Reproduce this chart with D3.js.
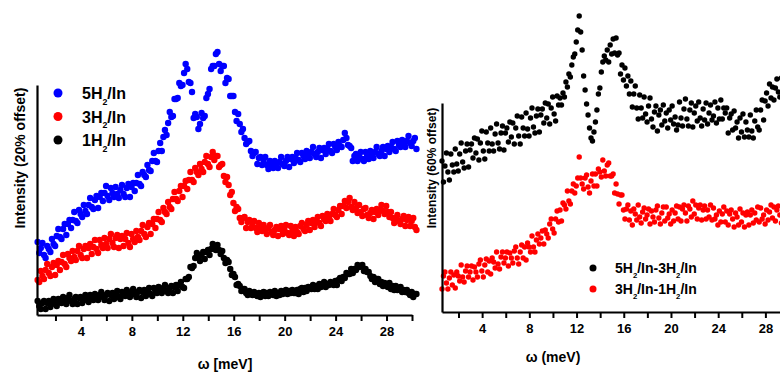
<!DOCTYPE html>
<html>
<head>
<meta charset="utf-8">
<script src="https://cdn.jsdelivr.net/npm/d3@7"></script>
<style>
  body { margin: 0; background: #fff; }
  text { font-family: "Liberation Sans", Arial, sans-serif; font-weight: bold; fill: #000; }
</style>
</head>
<body>
<svg id="chart" width="780" height="372"></svg>
<script>
// energy transfer (meV), shared by all scans
const energy = [
  0.6,0.725,0.85,0.975,1.1,1.225,1.35,1.475,
  1.6,1.725,1.85,1.975,2.1,2.225,2.35,2.475,
  2.6,2.725,2.85,2.975,3.1,3.225,3.35,3.475,
  3.6,3.725,3.85,3.975,4.1,4.225,4.35,4.475,
  4.6,4.725,4.85,4.975,5.1,5.225,5.35,5.475,
  5.6,5.725,5.85,5.975,6.1,6.225,6.35,6.475,
  6.6,6.725,6.85,6.975,7.1,7.225,7.35,7.475,
  7.6,7.725,7.85,7.975,8.1,8.225,8.35,8.475,
  8.6,8.725,8.85,8.975,9.1,9.225,9.35,9.475,
  9.6,9.725,9.85,9.975,10.1,10.225,10.35,10.475,
  10.6,10.725,10.85,10.975,11.1,11.225,11.35,11.475,
  11.6,11.725,11.85,11.975,12.1,12.225,12.35,12.475,
  12.6,12.725,12.85,12.975,13.1,13.225,13.35,13.475,
  13.6,13.725,13.85,13.975,14.1,14.225,14.35,14.475,
  14.6,14.725,14.85,14.975,15.1,15.225,15.35,15.475,
  15.6,15.725,15.85,15.975,16.1,16.225,16.35,16.475,
  16.6,16.725,16.85,16.975,17.1,17.225,17.35,17.475,
  17.6,17.725,17.85,17.975,18.1,18.225,18.35,18.475,
  18.6,18.725,18.85,18.975,19.1,19.225,19.35,19.475,
  19.6,19.725,19.85,19.975,20.1,20.225,20.35,20.475,
  20.6,20.725,20.85,20.975,21.1,21.225,21.35,21.475,
  21.6,21.725,21.85,21.975,22.1,22.225,22.35,22.475,
  22.6,22.725,22.85,22.975,23.1,23.225,23.35,23.475,
  23.6,23.725,23.85,23.975,24.1,24.225,24.35,24.475,
  24.6,24.725,24.85,24.975,25.1,25.225,25.35,25.475,
  25.6,25.725,25.85,25.975,26.1,26.225,26.35,26.475,
  26.6,26.725,26.85,26.975,27.1,27.225,27.35,27.475,
  27.6,27.725,27.85,27.975,28.1,28.225,28.35,28.475,
  28.6,28.725,28.85,28.975,29.1,29.225,29.35,29.475,
  29.6,29.725,29.85,29.975,30.1,30.225,30.35
];

// left panel, intensity with 20% offset (arb. units)
const h5 = [
  0.73,0.62,0.67,0.72,0.60,0.57,0.69,0.66,
  0.63,0.76,0.71,0.69,0.79,0.86,0.78,0.76,
  0.86,0.91,0.80,0.91,0.95,0.87,0.95,1.03,
  0.94,0.92,1.05,1.01,0.98,1.10,1.04,1.01,
  1.10,1.17,1.08,1.06,1.15,1.19,1.07,1.18,
  1.22,1.14,1.22,1.29,1.19,1.15,1.27,1.22,
  1.18,1.28,1.21,1.17,1.25,1.30,1.21,1.18,
  1.27,1.31,1.18,1.28,1.32,1.24,1.32,1.40,
  1.31,1.29,1.43,1.40,1.38,1.50,1.45,1.44,
  1.54,1.62,1.54,1.53,1.64,1.72,1.64,1.78,
  1.85,1.80,1.92,2.03,1.98,1.99,2.16,2.16,
  2.17,2.32,2.29,2.30,2.42,2.51,2.46,2.33,
  2.32,2.23,1.97,2.01,1.98,1.86,1.91,2.02,
  1.97,1.99,2.17,2.21,2.26,2.46,2.49,2.49,
  2.61,2.63,2.51,2.44,2.49,2.49,2.32,2.37,
  2.36,2.19,2.19,2.19,2.03,1.94,2.01,1.91,
  1.83,1.86,1.77,1.71,1.73,1.74,1.64,1.59,
  1.62,1.63,1.51,1.57,1.58,1.50,1.54,1.58,
  1.50,1.46,1.54,1.50,1.47,1.54,1.49,1.47,
  1.53,1.58,1.51,1.49,1.54,1.58,1.48,1.56,
  1.58,1.52,1.57,1.62,1.55,1.53,1.62,1.59,
  1.56,1.64,1.59,1.57,1.63,1.68,1.61,1.58,
  1.63,1.67,1.57,1.65,1.67,1.61,1.66,1.71,
  1.64,1.62,1.71,1.68,1.65,1.73,1.69,1.68,
  1.75,1.82,1.77,1.70,1.69,1.67,1.54,1.59,
  1.61,1.54,1.59,1.63,1.56,1.54,1.63,1.59,
  1.56,1.64,1.59,1.57,1.63,1.68,1.61,1.59,
  1.64,1.68,1.59,1.66,1.69,1.63,1.68,1.73,
  1.66,1.64,1.74,1.70,1.68,1.75,1.71,1.68,
  1.74,1.79,1.72,1.69,1.74,1.77,1.66
];
const h3 = [
  0.35,0.33,0.44,0.39,0.36,0.45,0.51,0.42,
  0.39,0.48,0.52,0.40,0.50,0.54,0.45,0.53,
  0.60,0.51,0.48,0.61,0.57,0.54,0.64,0.58,
  0.55,0.64,0.69,0.60,0.57,0.66,0.69,0.57,
  0.67,0.71,0.61,0.68,0.75,0.66,0.62,0.75,
  0.70,0.67,0.77,0.71,0.67,0.76,0.81,0.72,
  0.68,0.77,0.80,0.67,0.76,0.79,0.69,0.76,
  0.82,0.72,0.68,0.81,0.76,0.73,0.84,0.78,
  0.75,0.84,0.90,0.81,0.78,0.88,0.92,0.81,
  0.91,0.96,0.87,0.96,1.03,0.95,0.93,1.07,
  1.03,1.01,1.13,1.08,1.06,1.16,1.23,1.16,
  1.14,1.24,1.29,1.18,1.29,1.34,1.26,1.35,
  1.43,1.35,1.33,1.47,1.43,1.40,1.51,1.46,
  1.43,1.53,1.59,1.51,1.48,1.58,1.63,1.55,
  1.59,1.59,1.48,1.50,1.51,1.39,1.33,1.38,
  1.30,1.20,1.23,1.12,1.04,1.08,1.06,0.97,
  0.93,0.97,0.98,0.87,0.93,0.95,0.87,0.91,
  0.94,0.87,0.83,0.92,0.87,0.84,0.90,0.85,
  0.81,0.87,0.90,0.83,0.80,0.85,0.88,0.79,
  0.86,0.89,0.81,0.86,0.90,0.82,0.80,0.89,
  0.84,0.79,0.88,0.83,0.81,0.89,0.92,0.86,
  0.84,0.90,0.94,0.85,0.92,0.95,0.88,0.93,
  0.98,0.92,0.89,0.99,0.96,0.94,1.01,0.97,
  0.94,1.01,1.06,1.00,0.98,1.05,1.09,1.01,
  1.09,1.14,1.07,1.13,1.17,1.08,1.05,1.13,
  1.07,1.02,1.10,1.03,0.99,1.06,1.07,1.00,
  0.97,1.02,1.05,0.96,1.03,1.06,1.00,1.05,
  1.10,1.04,1.01,1.09,1.03,0.98,1.03,0.97,
  0.92,0.97,1.00,0.94,0.91,0.96,0.99,0.89,
  0.95,0.98,0.89,0.94,0.97,0.88,0.85
];
const h1 = [
  0.14,0.09,0.06,0.12,0.14,0.06,0.12,0.14,
  0.08,0.13,0.16,0.11,0.09,0.16,0.13,0.12,
  0.18,0.13,0.11,0.17,0.20,0.14,0.11,0.16,
  0.18,0.11,0.17,0.18,0.12,0.17,0.20,0.15,
  0.13,0.20,0.17,0.15,0.21,0.17,0.15,0.20,
  0.23,0.18,0.15,0.20,0.22,0.14,0.20,0.22,
  0.16,0.21,0.24,0.18,0.16,0.23,0.20,0.19,
  0.25,0.20,0.18,0.23,0.26,0.21,0.18,0.23,
  0.25,0.17,0.23,0.25,0.19,0.24,0.27,0.21,
  0.19,0.27,0.24,0.22,0.28,0.24,0.22,0.27,
  0.30,0.24,0.22,0.27,0.29,0.22,0.28,0.30,
  0.24,0.30,0.33,0.28,0.27,0.36,0.36,0.38,
  0.48,0.47,0.49,0.57,0.62,0.57,0.54,0.60,
  0.63,0.56,0.63,0.65,0.60,0.66,0.71,0.66,
  0.65,0.70,0.65,0.61,0.64,0.57,0.52,0.55,
  0.53,0.46,0.40,0.41,0.38,0.30,0.31,0.29,
  0.24,0.26,0.26,0.22,0.20,0.24,0.21,0.20,
  0.23,0.20,0.19,0.22,0.18,0.22,0.23,0.19,
  0.22,0.19,0.23,0.21,0.20,0.24,0.19,0.22,
  0.20,0.24,0.21,0.23,0.25,0.21,0.24,0.22,
  0.25,0.22,0.22,0.25,0.21,0.26,0.27,0.23,
  0.27,0.24,0.28,0.27,0.26,0.30,0.26,0.29,
  0.26,0.31,0.28,0.30,0.33,0.28,0.31,0.30,
  0.33,0.31,0.30,0.34,0.30,0.35,0.37,0.34,
  0.38,0.37,0.42,0.41,0.41,0.46,0.42,0.46,
  0.45,0.50,0.48,0.49,0.50,0.44,0.46,0.43,
  0.43,0.39,0.36,0.38,0.33,0.36,0.36,0.31,
  0.33,0.29,0.32,0.30,0.28,0.32,0.26,0.29,
  0.25,0.29,0.25,0.27,0.28,0.23,0.25,0.23,
  0.25,0.22,0.20,0.23,0.18,0.21,0.21
];

// right panel, differences with 60% offset (arb. units)
const d53 = [
  1.51,1.30,1.46,1.59,1.40,1.32,1.58,1.47,
  1.40,1.63,1.48,1.41,1.58,1.69,1.50,1.44,
  1.61,1.68,1.45,1.62,1.68,1.54,1.74,1.59,
  1.73,1.52,1.69,1.81,1.61,1.53,1.80,1.69,
  1.61,1.84,1.68,1.61,1.78,1.88,1.69,1.63,
  1.79,1.86,1.62,1.79,1.84,1.70,1.90,1.75,
  1.89,1.68,1.84,1.96,1.76,1.68,1.95,1.84,
  1.76,1.99,1.83,1.76,1.94,2.04,1.85,1.79,
  1.96,2.03,1.80,1.97,2.03,1.89,2.09,1.94,
  2.08,1.88,2.04,2.15,1.98,1.91,2.16,2.07,
  2.14,2.07,2.19,2.15,2.30,2.25,2.38,2.35,
  2.47,2.55,2.58,2.70,2.82,2.96,2.80,2.62,
  2.36,2.22,2.08,1.97,1.84,1.74,1.71,1.80,
  1.90,2.02,2.18,2.24,2.40,2.50,2.56,2.52,
  2.62,2.50,2.67,2.58,2.73,2.59,2.74,2.57,
  2.59,2.38,2.47,2.32,2.44,2.26,2.36,2.18,
  2.31,2.05,2.18,2.26,2.04,1.93,2.17,2.04,
  1.94,2.15,1.98,1.90,2.06,2.14,1.93,1.85,
  2.00,2.06,1.81,1.97,2.02,1.87,2.07,1.91,
  1.99,1.84,2.02,1.92,2.06,1.88,1.95,1.82,
  1.87,2.10,1.94,1.86,2.03,2.13,1.93,1.86,
  2.02,2.09,1.85,1.99,2.06,1.91,2.10,1.94,
  1.86,2.03,1.92,2.09,1.88,1.99,2.07,1.92,
  1.96,2.10,1.89,2.04,1.93,2.12,1.93,2.04,
  1.99,2.04,1.79,1.94,1.98,1.82,2.01,1.84,
  1.90,1.74,1.94,1.80,1.98,1.75,1.90,1.82,
  1.75,1.97,1.81,1.74,1.91,2.02,1.85,1.82,
  2.02,2.12,1.92,2.11,2.19,2.06,2.28,2.14,
  2.25,2.12,2.24,2.33,2.20,2.15,2.34,2.26,
  2.21,2.37,2.26,2.20,2.32,2.38,2.24
];
const d31 = [
  0.23,0.36,0.40,0.29,0.23,0.34,0.40,0.27,
  0.37,0.24,0.40,0.36,0.31,0.47,0.35,0.30,
  0.41,0.46,0.35,0.40,0.46,0.32,0.45,0.40,
  0.35,0.48,0.52,0.41,0.35,0.47,0.53,0.40,
  0.51,0.38,0.54,0.50,0.44,0.60,0.48,0.43,
  0.55,0.60,0.49,0.54,0.60,0.46,0.59,0.54,
  0.49,0.61,0.65,0.54,0.48,0.60,0.67,0.54,
  0.65,0.52,0.69,0.65,0.60,0.76,0.65,0.60,
  0.72,0.78,0.68,0.74,0.81,0.68,0.82,0.78,
  0.74,0.88,0.93,0.83,0.79,0.93,1.01,0.90,
  1.02,0.91,1.09,1.07,1.03,1.21,1.11,1.08,
  1.21,1.28,1.19,1.26,1.34,1.55,1.34,1.28,
  1.23,1.34,1.37,1.25,1.19,1.31,1.38,1.26,
  1.38,1.26,1.43,1.40,1.35,1.52,1.41,1.36,
  1.47,1.49,1.36,1.36,1.38,1.19,1.28,1.18,
  1.08,1.17,1.17,1.02,0.93,1.03,1.07,0.92,
  1.01,0.87,1.03,0.98,0.92,1.07,0.95,0.89,
  1.00,1.04,0.93,0.97,1.03,0.88,1.01,0.95,
  0.90,1.02,1.06,0.94,0.88,0.99,1.05,0.91,
  1.05,0.94,0.98,0.88,1.02,0.91,0.99,1.06,
  0.93,1.05,0.91,1.03,1.07,0.99,0.91,1.06,
  1.03,0.95,1.11,0.98,1.07,0.93,1.04,1.07,
  0.92,1.02,1.06,0.93,1.02,0.95,1.07,0.92,
  1.04,0.93,0.97,0.87,1.01,0.90,0.98,1.05,
  0.90,1.01,0.87,0.98,1.02,0.93,0.85,0.99,
  0.95,0.87,1.03,0.90,0.99,0.85,0.97,1.00,
  0.87,0.97,1.02,0.89,0.99,0.92,1.05,0.90,
  1.04,0.93,0.97,0.88,1.02,0.92,1.00,1.07,
  0.94,1.05,0.91,1.02,1.06,0.97,0.89,1.03,
  0.99,0.91,1.07,0.94,1.03,0.89,1.01
];

const leftSeries = [
  {name: ['5H'], values: h5, color: '#0000ff'},
  {name: ['3H'], values: h3, color: '#ff0000'},
  {name: ['1H'], values: h1, color: '#000000'}
];
const rightSeries = [
  {name: ['5H', '3H'], values: d53, color: '#000000'},
  {name: ['3H', '1H'], values: d31, color: '#ff0000'}
];
const tickValues = [2,4,6,8,10,12,14,16,18,20,22,24,26,28,30];

const svg = d3.select('#chart');

function drawAxes(g, x, y, height) {
  g.append('g')
    .attr('transform', `translate(0,${height})`)
    .call(d3.axisBottom(x).tickValues(tickValues).tickSize(6).tickSizeOuter(0)
      .tickFormat(d => d % 4 === 0 ? d : ''))
    .call(a => a.select('.domain').attr('stroke-width', 2.2))
    .call(a => a.selectAll('.tick line').attr('stroke-width', 2))
    .call(a => a.selectAll('.tick text').attr('font-size', 13).attr('dy', '0.9em'));
  g.append('g')
    .attr('transform', `translate(${x.range()[0]},0)`)
    .call(d3.axisLeft(y).tickValues([]).tickSizeOuter(0))
    .call(a => a.select('.domain').attr('stroke-width', 2.2));
}

function dots(g, x, y, s, r) {
  g.append('g')
    .selectAll('circle')
    .data(s.values)
    .enter()
    .append('circle')
    .attr('cx', (d, i) => x(energy[i]))
    .attr('cy', d => y(d))
    .attr('r', r)
    .attr('fill', s.color);
}

function legendLabel(t, parts, size) {
  parts.forEach((p, i) => {
    if (i > 0) t.append('tspan').text('-');
    t.append('tspan').text(p);
    t.append('tspan').attr('font-size', size * 0.55).attr('dy', size * 0.35).text('2');
    t.append('tspan').attr('dy', -size * 0.35).text('/In');
  });
}

// ---- left panel
const xL = d3.scaleLinear().domain([0.55, 30]).range([37, 412]);
const yL = d3.scaleLinear().domain([0, 2.3]).range([315, 85]);
const gL = svg.append('g');
leftSeries.forEach(s => dots(gL, xL, yL, s, 3.2));
drawAxes(gL, xL, yL, 315);

leftSeries.forEach((s, i) => {
  const ly = 93 + i * 23.5;
  gL.append('circle').attr('cx', 58).attr('cy', ly).attr('r', 4.5).attr('fill', s.color);
  legendLabel(gL.append('text').attr('x', 82).attr('y', ly + 6).attr('font-size', 16), s.name, 16);
});

gL.append('text')
  .attr('transform', 'translate(25,158) rotate(-90)')
  .attr('text-anchor', 'middle')
  .attr('font-size', 14)
  .text('Intensity (20% offset)');
gL.append('text')
  .attr('x', 225).attr('y', 369)
  .attr('text-anchor', 'middle')
  .attr('font-size', 14)
  .text('ω [meV]');

// ---- right panel
const xR = d3.scaleLinear().domain([0.6, 30]).range([442, 789]);
const yR = d3.scaleLinear().domain([0, 2.09]).range([312, 103]);
const gR = svg.append('g');
rightSeries.forEach(s => dots(gR, xR, yR, s, 2.7));
drawAxes(gR, xR, yR, 312);

rightSeries.forEach((s, i) => {
  const ly = 268 + i * 21;
  gR.append('circle').attr('cx', 593).attr('cy', ly).attr('r', 3.5).attr('fill', s.color);
  legendLabel(gR.append('text').attr('x', 615).attr('y', ly + 5).attr('font-size', 14), s.name, 14);
});

gR.append('text')
  .attr('transform', 'translate(436,168) rotate(-90)')
  .attr('text-anchor', 'middle')
  .attr('font-size', 12)
  .text('Intensity (60% offset)');
gR.append('text')
  .attr('x', 553).attr('y', 362)
  .attr('text-anchor', 'middle')
  .attr('font-size', 14)
  .text('ω (meV)');
</script>
</body>
</html>
